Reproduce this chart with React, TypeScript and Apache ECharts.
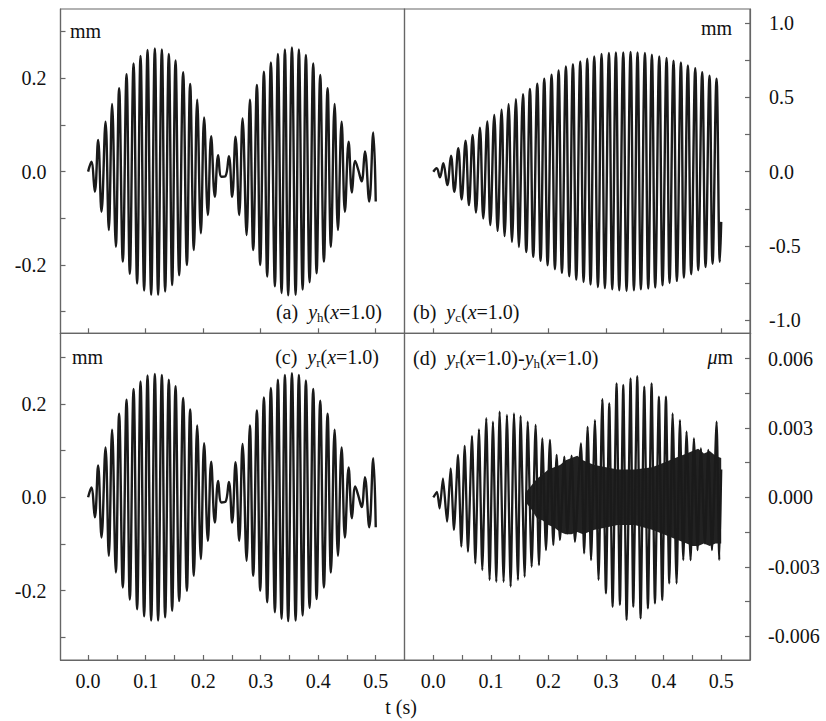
import React, { useEffect, useRef } from 'react';
import * as echarts from 'echarts';

const FONT = 'Liberation Serif, Times New Roman, serif';
const INK = '#1a1a1a';
const FRAME = '#666';

// ---- Panel (a): y_h(x=1.0), extrema (t in s, value in mm)
const aTimes = [0, 0.0056, 0.0117, 0.0174, 0.0233, 0.0303, 0.036, 0.0417, 0.0482, 0.0539,
  0.0603, 0.0668, 0.0725, 0.079, 0.0852, 0.0911, 0.0974, 0.1033, 0.1096, 0.116,
  0.1217, 0.1282, 0.1339, 0.1403, 0.1461, 0.152, 0.1583, 0.1652, 0.1717, 0.1774,
  0.1838, 0.1896, 0.196, 0.2017, 0.2082, 0.2139, 0.2203, 0.2261, 0.2317, 0.2386,
  0.2447, 0.2504, 0.2563, 0.2626, 0.2685, 0.2755, 0.2812, 0.287, 0.2934, 0.2991,
  0.3056, 0.3113, 0.3177, 0.3247, 0.3299, 0.3363, 0.3421, 0.3478, 0.3543, 0.3607,
  0.3664, 0.3729, 0.3786, 0.385, 0.3913, 0.3972, 0.4035, 0.4099, 0.4163, 0.4221,
  0.4285, 0.4343, 0.4407, 0.4464, 0.4529, 0.4586, 0.4643, 0.4696, 0.4755, 0.4812,
  0.4887, 0.4957, 0.5];
const aValues = [0, 0.021, -0.043, 0.068, -0.086, 0.107, -0.125, 0.145, -0.161, 0.179,
  -0.193, 0.209, -0.219, 0.232, -0.24, 0.248, -0.255, 0.261, -0.264, 0.264,
  -0.264, 0.262, -0.257, 0.252, -0.243, 0.238, -0.222, 0.213, -0.2, 0.188,
  -0.168, 0.154, -0.132, 0.116, -0.093, 0.076, -0.054, 0.035, -0.011, -0.01,
  0.033, -0.054, 0.075, -0.093, 0.114, -0.136, 0.154, -0.168, 0.186, -0.2,
  0.214, -0.225, 0.234, -0.246, 0.252, -0.26, 0.262, -0.265, 0.266, -0.264,
  0.262, -0.253, 0.25, -0.237, 0.232, -0.218, 0.207, -0.193, 0.179, -0.161,
  0.145, -0.125, 0.107, -0.086, 0.064, -0.045, 0.023, 0.004, -0.021, 0.043,
  -0.064, 0.084, -0.064];

// ---- Panel (c): y_r(x=1.0) is indistinguishable from (a) at the picture's resolution
const cTimes = aTimes;
const cValues = aValues;

// ---- Panel (b): y_c(x=1.0) peaks and troughs (mm)
const bStart = [0, 0];
const bPeakTimes = [0.0058, 0.0174, 0.0307, 0.0434, 0.0561, 0.0683, 0.081, 0.0938, 0.1059, 0.1186,
  0.1308, 0.1435, 0.1557, 0.1678, 0.1806, 0.1927, 0.2054, 0.2176, 0.2303, 0.2425,
  0.2552, 0.2674, 0.2795, 0.2922, 0.305, 0.3171, 0.3299, 0.3426, 0.3547, 0.3675,
  0.3796, 0.3924, 0.4051, 0.4172, 0.43, 0.4421, 0.4549, 0.467, 0.4797, 0.4919];
const bPeakValues = [0.023, 0.057, 0.108, 0.158, 0.209, 0.248, 0.297, 0.338, 0.383, 0.417,
  0.455, 0.489, 0.523, 0.557, 0.593, 0.626, 0.653, 0.682, 0.709, 0.725,
  0.743, 0.761, 0.777, 0.793, 0.8, 0.804, 0.804, 0.807, 0.804, 0.8,
  0.788, 0.777, 0.766, 0.748, 0.736, 0.716, 0.698, 0.671, 0.647, 0.626];
const bTroughTimes = [0.0116, 0.0243, 0.0365, 0.0492, 0.0619, 0.0741, 0.0868, 0.099, 0.1117, 0.1238,
  0.1366, 0.1487, 0.1615, 0.1736, 0.1863, 0.1985, 0.2112, 0.2234, 0.2361, 0.2483,
  0.261, 0.2731, 0.2859, 0.298, 0.3108, 0.3229, 0.3356, 0.3484, 0.3605, 0.3733,
  0.3854, 0.3981, 0.4103, 0.423, 0.4352, 0.4479, 0.4601, 0.4728, 0.485, 0.4977];
const bTroughValues = [-0.038, -0.09, -0.135, -0.187, -0.225, -0.275, -0.315, -0.36, -0.399, -0.434,
  -0.473, -0.507, -0.541, -0.574, -0.601, -0.63, -0.657, -0.682, -0.705, -0.727,
  -0.743, -0.761, -0.777, -0.784, -0.793, -0.799, -0.804, -0.799, -0.793, -0.788,
  -0.781, -0.766, -0.75, -0.736, -0.714, -0.691, -0.664, -0.642, -0.62, -0.608];
const bEnd = [0.5, -0.338];

// ---- Panel (d): y_r - y_h (μm), slow oscillation extrema
const dStart = [0, 0];
const dPeakTimes = [0.0064, 0.0168, 0.0301, 0.0429, 0.0545, 0.0672, 0.0793, 0.092, 0.1036, 0.1152,
  0.1279, 0.1401, 0.1516, 0.164, 0.1777, 0.1893, 0.2026, 0.2142, 0.2275, 0.2402,
  0.2564, 0.268, 0.2807, 0.2935, 0.3056, 0.3183, 0.3299, 0.3426, 0.3542, 0.3664,
  0.3791, 0.3918, 0.404, 0.4156, 0.4283, 0.4398, 0.4526, 0.4647, 0.4775, 0.492];
const dPeakValues = [0.00024, 0.00082, 0.00125, 0.00183, 0.00222, 0.00265, 0.00294, 0.00342, 0.00327, 0.0037,
  0.00356, 0.00363, 0.00352, 0.00327, 0.00313, 0.00255, 0.00248, 0.00183, 0.00176, 0.0018,
  0.00233, 0.00305, 0.00334, 0.00424, 0.00406, 0.00493, 0.00486, 0.00514, 0.00524, 0.00478,
  0.00493, 0.00435, 0.00435, 0.00363, 0.00334, 0.00284, 0.00255, 0.00212, 0.00205, 0.00327];
const dTroughTimes = [0.011, 0.0238, 0.0359, 0.0487, 0.0602, 0.073, 0.0851, 0.0978, 0.1094, 0.1221,
  0.1343, 0.147, 0.1586, 0.1708, 0.1835, 0.1957, 0.2084, 0.22, 0.2327, 0.246,
  0.262, 0.274, 0.287, 0.2998, 0.3114, 0.3241, 0.3357, 0.3473, 0.36, 0.3727,
  0.3849, 0.3976, 0.4098, 0.4225, 0.4341, 0.4468, 0.4589, 0.4717, 0.484, 0.4966];
const dTroughValues = [-0.00048, -0.00105, -0.00141, -0.00213, -0.00235, -0.00285, -0.00314, -0.00357, -0.00365, -0.00365,
  -0.00386, -0.00357, -0.00343, -0.003, -0.00293, -0.00228, -0.00206, -0.00184, -0.00156, -0.00192,
  -0.00242, -0.00271, -0.00357, -0.00415, -0.00473, -0.00465, -0.0053, -0.00473, -0.00523, -0.0048,
  -0.00458, -0.00444, -0.00372, -0.00372, -0.00271, -0.00271, -0.00228, -0.00199, -0.00228, -0.00271];
const dEnd = [0.5, 0.0012];

// (d) dense fast-oscillation band: upper and lower envelope
const dBandTimes = [0.16, 0.17, 0.18, 0.19, 0.2, 0.21, 0.22, 0.23, 0.24, 0.25, 0.26, 0.27, 0.28,
  0.3, 0.32, 0.35, 0.38, 0.4, 0.42, 0.44, 0.45, 0.46, 0.47, 0.48, 0.49, 0.5];
const dBandUpper = [0.0002, 0.0005, 0.0008, 0.001, 0.0012, 0.0013, 0.0014, 0.0016, 0.0017, 0.0018, 0.0016, 0.0015, 0.0014,
  0.0013, 0.0012, 0.0012, 0.0013, 0.0015, 0.0017, 0.0019, 0.002, 0.0021, 0.0019, 0.002, 0.0018, 0.0017];
const dBandLower = [-0.0002, -0.0005, -0.0009, -0.001, -0.0012, -0.0013, -0.0015, -0.0016, -0.0016, -0.0015, -0.0016, -0.0015, -0.0014,
  -0.0013, -0.0012, -0.0012, -0.0014, -0.0016, -0.0018, -0.002, -0.0021, -0.0021, -0.002, -0.0021, -0.002, -0.002];

// ---- Axis ticks / labels
const xTicksTop = [0, 0.1, 0.2, 0.3, 0.4, 0.5];
const xTicksBottom = [0, 0.05, 0.1, 0.15, 0.2, 0.25, 0.3, 0.35, 0.4, 0.45, 0.5];
const xLabels = [0, 0.1, 0.2, 0.3, 0.4, 0.5];
const yTicksMm = [-0.3, -0.2, -0.1, 0, 0.1, 0.2, 0.3];
const yLabelsMm = [-0.2, 0, 0.2];
const yTicksB = [-1, -0.75, -0.5, -0.25, 0, 0.25, 0.5, 0.75, 1];
const yLabelsB = [-1, -0.5, 0, 0.5, 1];
const yTicksD = [-0.006, -0.0045, -0.003, -0.0015, 0, 0.0015, 0.003, 0.0045, 0.006];
const yLabelsD = [-0.006, -0.003, 0, 0.003, 0.006];

function zip(ts: number[], vs: number[]) {
  const n = Math.min(ts.length, vs.length);
  const out: number[][] = [];
  for (let i = 0; i < n; i++) out.push([ts[i], vs[i]]);
  return out;
}
function interleave(start: number[], pt: number[], pv: number[], tt: number[], tv: number[], end: number[]) {
  const out: number[][] = [start];
  const n = Math.min(pt.length, pv.length, tt.length, tv.length);
  for (let i = 0; i < n; i++) {
    out.push([pt[i], pv[i]]);
    out.push([tt[i], tv[i]]);
  }
  out.push(end);
  return out;
}

const axisLine = { show: true, onZero: false, lineStyle: { color: FRAME, width: 1.2 } };
const tickStyle = { color: FRAME, width: 1.2 };
const labelBase = { fontFamily: FONT, fontSize: 20, color: '#111' };

function xAxis(grid: number, min: number, bottomRow: boolean) {
  return {
    type: 'value', gridIndex: grid, min, max: 0.55, position: 'bottom',
    axisLine, splitLine: { show: false },
    axisTick: { show: true, inside: true, length: 5, lineStyle: tickStyle, customValues: bottomRow ? xTicksBottom : xTicksTop },
    axisLabel: bottomRow
      ? { ...labelBase, show: true, margin: 11, customValues: xLabels, formatter: (v: number) => v.toFixed(1) }
      : { show: false },
  };
}
function yAxis(grid: number, min: number, max: number, pos: string, ticks: number[], labels: number[], digits: number, margin: number) {
  return {
    type: 'value', gridIndex: grid, min, max, position: pos,
    axisLine, splitLine: { show: false },
    axisTick: { show: true, inside: true, length: 5, lineStyle: tickStyle, customValues: ticks },
    axisLabel: { ...labelBase, show: true, margin, customValues: labels, formatter: (v: number) => v.toFixed(digits) },
  };
}
function lineSeries(idx: number, data: number[][], width: number, smooth: number | boolean) {
  return {
    type: 'line', xAxisIndex: idx, yAxisIndex: idx, data, showSymbol: false, symbol: 'none',
    smooth, lineStyle: { color: INK, width }, z: 3,
  };
}

const rich = {
  i: { fontFamily: FONT, fontSize: 20, fontStyle: 'italic', color: '#111' },
  s: { fontFamily: FONT, fontSize: 13, color: '#111', padding: [10, 0, 0, 0] },
};
function label(text: string, x: number, y: number, align: string) {
  return {
    type: 'text', x, y, z: 10,
    style: { text, fontFamily: FONT, fontSize: 20, fill: '#111', align, verticalAlign: 'middle', rich },
  };
}

export default function App() {
  const ref = useRef<HTMLDivElement>(null);
  useEffect(() => {
    const chart = echarts.init(ref.current!, null, { renderer: 'svg' });
    const gridBox = { show: true, borderColor: FRAME, borderWidth: 1.2, backgroundColor: 'transparent' };
    const option: any = {
      animation: false,
      backgroundColor: '#fff',
      textStyle: { fontFamily: FONT },
      grid: [
        { ...gridBox, left: 60.5, top: 9, width: 344, height: 324.3 },
        { ...gridBox, left: 404.5, top: 9, width: 345.5, height: 324.3 },
        { ...gridBox, left: 60.5, top: 333.3, width: 344, height: 326.7 },
        { ...gridBox, left: 404.5, top: 333.3, width: 345.5, height: 326.7 },
      ],
      xAxis: [xAxis(0, -0.048, false), xAxis(1, -0.05, false), xAxis(2, -0.048, true), xAxis(3, -0.05, true)],
      yAxis: [
        yAxis(0, -0.3465, 0.3485, 'left', yTicksMm, yLabelsMm, 1, 14),
        yAxis(1, -1.089, 1.0963, 'right', yTicksB, yLabelsB, 1, 19),
        yAxis(2, -0.3484, 0.3512, 'left', yTicksMm, yLabelsMm, 1, 14),
        yAxis(3, -0.00703, 0.00709, 'right', yTicksD, yLabelsD, 3, 18),
      ],
      series: [
        lineSeries(0, zip(aTimes, aValues), 2.4, 0.4),
        lineSeries(1, interleave(bStart, bPeakTimes, bPeakValues, bTroughTimes, bTroughValues, bEnd), 2.4, 0.4),
        lineSeries(2, zip(cTimes, cValues), 2.4, 0.4),
        {
          type: 'custom', xAxisIndex: 3, yAxisIndex: 3, z: 2,
          data: dBandTimes.map((t, i) => [t, dBandUpper[i], dBandLower[i]]),
          encode: { x: 0, y: [1, 2] },
          renderItem: (params: any, api: any) => {
            if (params.dataIndex !== 0) return null;
            const up = dBandTimes.map((t, i) => api.coord([t, dBandUpper[i]]));
            const lo = dBandTimes.map((t, i) => api.coord([t, dBandLower[i]])).reverse();
            return { type: 'polygon', shape: { points: up.concat(lo) }, style: { fill: '#222' } };
          },
        },
        lineSeries(3, interleave(dStart, dPeakTimes, dPeakValues, dTroughTimes, dTroughValues, dEnd), 2.3, 0.2),
      ],
      graphic: [
        label('mm', 70, 31, 'left'),
        label('mm', 732, 28, 'right'),
        label('mm', 72, 357, 'left'),
        label('{i|μ}m', 733, 357, 'right'),
        label('(a)  {i|y}{s|h}({i|x}=1.0)', 382, 312, 'right'),
        label('(b)  {i|y}{s|c}({i|x}=1.0)', 413, 312, 'left'),
        label('(c)  {i|y}{s|r}({i|x}=1.0)', 379, 357, 'right'),
        label('(d)  {i|y}{s|r}({i|x}=1.0)-{i|y}{s|h}({i|x}=1.0)', 413, 358, 'left'),
        label('t (s)', 401, 707, 'center'),
      ],
    };
    chart.setOption(option);
    return () => chart.dispose();
  }, []);
  return (
    <div
      ref={ref}
      style={{ position: 'fixed', left: 0, top: 0, width: 826, height: 721, background: '#fff' }}
    />
  );
}
